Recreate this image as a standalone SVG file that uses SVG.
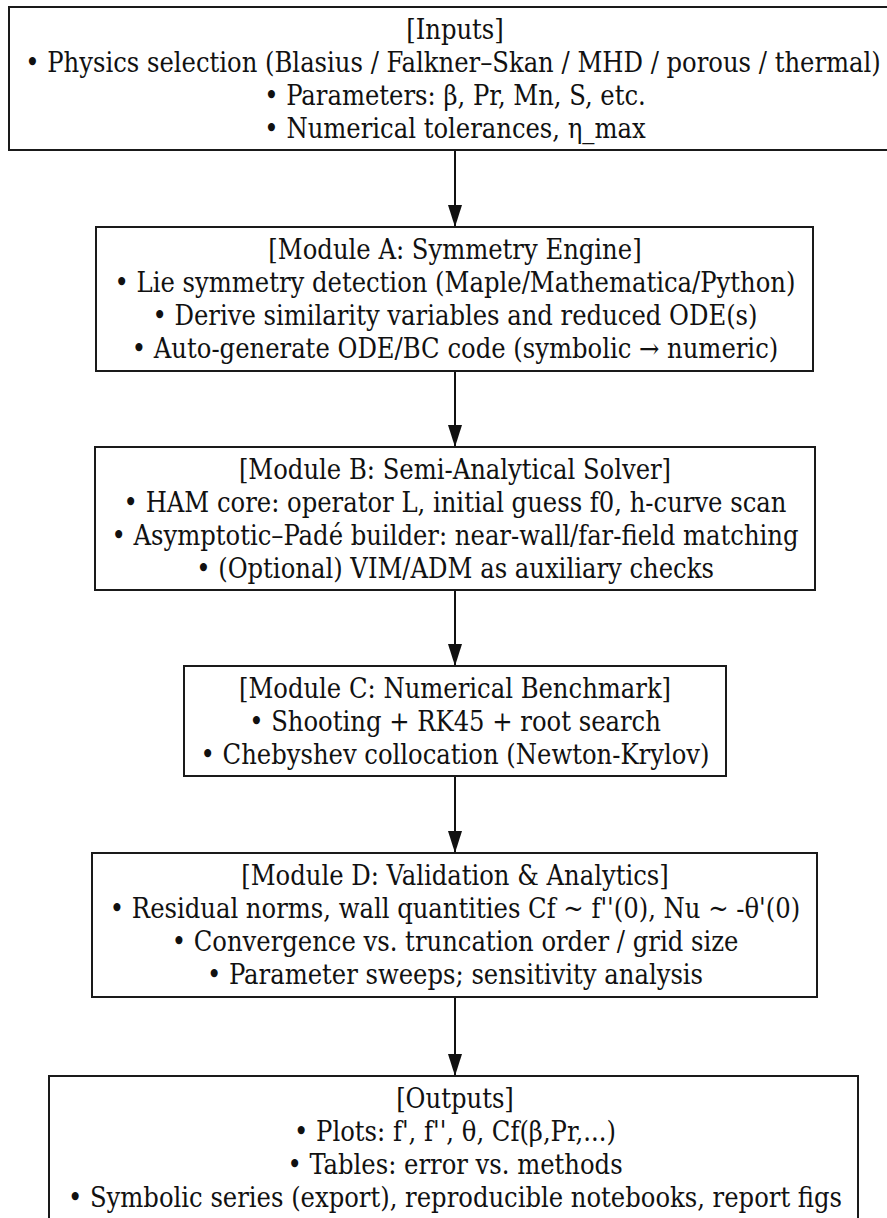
<svg xmlns="http://www.w3.org/2000/svg" width="887" height="1218" viewBox="0 0 887 1218">
<style>
.box{fill:#fff;stroke:#1a1a1a;stroke-width:2}
.t{font-family:"DejaVu Serif Condensed","DejaVu Serif",serif;font-stretch:condensed;font-size:27px;fill:#111;text-anchor:middle;dominant-baseline:central}
.edge{stroke:#111;stroke-width:2;fill:none}
</style>
<defs>
<marker id="ah" markerUnits="userSpaceOnUse" markerWidth="22" markerHeight="14" refX="22" refY="7" orient="auto">
<path d="M0,0 L22,7 L0,14 z" fill="#111"/>
</marker>
</defs>
<rect width="887" height="1218" fill="#fff"/>
<g id="connectors">
<line class="edge" x1="455" y1="150" x2="455" y2="227" marker-end="url(#ah)"/>
<line class="edge" x1="455" y1="371" x2="455" y2="447" marker-end="url(#ah)"/>
<line class="edge" x1="455" y1="590" x2="455" y2="666" marker-end="url(#ah)"/>
<line class="edge" x1="455" y1="776" x2="455" y2="853" marker-end="url(#ah)"/>
<line class="edge" x1="455" y1="997" x2="455" y2="1076" marker-end="url(#ah)"/>
</g>
<g id="inputs">
<rect class="box" x="9" y="7" width="890" height="143"/>
<text class="t" x="455" y="29">[Inputs]</text>
<text class="t" x="453" y="62">• Physics selection (Blasius / Falkner–Skan / MHD / porous / thermal)</text>
<text class="t" x="455" y="95">• Parameters: β, Pr, Mn, S, etc.</text>
<text class="t" x="455" y="128">• Numerical tolerances, η_max</text>
</g>
<g id="moduleA">
<rect class="box" x="96" y="227" width="717" height="144"/>
<text class="t" x="455" y="249.5">[Module A: Symmetry Engine]</text>
<text class="t" x="455" y="282.5">• Lie symmetry detection (Maple/Mathematica/Python)</text>
<text class="t" x="455" y="315.5">• Derive similarity variables and reduced ODE(s)</text>
<text class="t" x="455" y="348.5">• Auto-generate ODE/BC code (symbolic → numeric)</text>
</g>
<g id="moduleB">
<rect class="box" x="95" y="447" width="720" height="143"/>
<text class="t" x="455" y="469">[Module B: Semi-Analytical Solver]</text>
<text class="t" x="455" y="502">• HAM core: operator L, initial guess f0, h-curve scan</text>
<text class="t" x="455" y="535">• Asymptotic–Padé builder: near-wall/far-field matching</text>
<text class="t" x="455" y="568">• (Optional) VIM/ADM as auxiliary checks</text>
</g>
<g id="moduleC">
<rect class="box" x="184" y="666" width="542" height="110"/>
<text class="t" x="455" y="688">[Module C: Numerical Benchmark]</text>
<text class="t" x="455" y="721">• Shooting + RK45 + root search</text>
<text class="t" x="455" y="754">• Chebyshev collocation (Newton-Krylov)</text>
</g>
<g id="moduleD">
<rect class="box" x="92" y="853" width="725" height="144"/>
<text class="t" x="455" y="875.5">[Module D: Validation &amp; Analytics]</text>
<text class="t" x="455" y="908.5">• Residual norms, wall quantities Cf ~ f''(0), Nu ~ -θ'(0)</text>
<text class="t" x="455" y="941.5">• Convergence vs. truncation order / grid size</text>
<text class="t" x="455" y="974.5">• Parameter sweeps; sensitivity analysis</text>
</g>
<g id="outputs">
<rect class="box" x="49" y="1076" width="809" height="170"/>
<text class="t" x="455" y="1098">[Outputs]</text>
<text class="t" x="455" y="1131">• Plots: f', f'', θ, Cf(β,Pr,...)</text>
<text class="t" x="455" y="1164">• Tables: error vs. methods</text>
<text class="t" x="455" y="1197">• Symbolic series (export), reproducible notebooks, report figs</text>
</g>
</svg>
